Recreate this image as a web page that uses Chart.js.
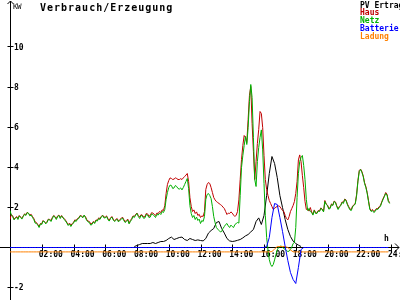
<!DOCTYPE html>
<html>
<head>
<meta charset="utf-8">
<script src="https://cdn.jsdelivr.net/npm/chart.js@4"></script>
<style>
  html, body { margin: 0; padding: 0; background: #fff; }
  canvas { display: block; }
</style>
</head>
<body>
<canvas id="chart" width="400" height="300"></canvas>
<script>
const title = 'Verbrauch/Erzeugung';
const unitLabel = 'KW';
const hourLabel = 'h';
const seriesNames = ['PV Ertrag', 'Haus', 'Netz', 'Batterie', 'Ladung'];
const seriesColors = ['#000000', '#c00000', '#00b000', '#0000ff', '#ff8000'];

const xTickValues = [2, 4, 6, 8, 10, 12, 14, 16, 18, 20, 22, 24];
const xTickLabels = ['02:00', '04:00', '06:00', '08:00', '10:00', '12:00', '14:00', '16:00', '18:00', '20:00', '22:00', '24:00'];
const yTickValues = [-2, 2, 4, 6, 8, 10];
const yTickLabels = ['-2', '2', '4', '6', '8', '10'];

// Haus/Netz are sampled every 5 min (00:00 .. 23:55), the rest every 10 min (00:00 .. 23:50)
const minutes5 = Array.from({ length: 288 }, (_, i) => i * 5);
const minutes10 = Array.from({ length: 144 }, (_, i) => i * 10);

// kW, one row per hour
const haus = [
  1.40, 1.65, 1.58, 1.42, 1.48, 1.55, 1.45, 1.60, 1.52, 1.46, 1.58, 1.68,
  1.65, 1.76, 1.70, 1.62, 1.66, 1.55, 1.45, 1.28, 1.25, 1.15, 1.05, 1.20,
  1.20, 1.35, 1.28, 1.22, 1.30, 1.42, 1.40, 1.35, 1.50, 1.60, 1.55, 1.45,
  1.58, 1.62, 1.50, 1.60, 1.48, 1.45, 1.36, 1.25, 1.15, 1.22, 1.10, 1.20,
  1.25, 1.38, 1.35, 1.45, 1.48, 1.60, 1.58, 1.52, 1.60, 1.55, 1.40, 1.32,
  1.30, 1.18, 1.20, 1.30, 1.25, 1.38, 1.35, 1.48, 1.45, 1.55, 1.62, 1.52,
  1.52, 1.58, 1.45, 1.36, 1.48, 1.55, 1.42, 1.35, 1.40, 1.45, 1.32, 1.40,
  1.45, 1.52, 1.40, 1.30, 1.35, 1.42, 1.22, 1.35, 1.45, 1.58, 1.55, 1.66,
  1.72, 1.60, 1.52, 1.64, 1.62, 1.52, 1.55, 1.70, 1.68, 1.56, 1.60, 1.74,
  1.72, 1.66, 1.60, 1.72, 1.70, 1.80, 1.75, 1.88, 1.85, 2.10, 2.70, 3.15,
  3.35, 3.48, 3.45, 3.40, 3.42, 3.48, 3.45, 3.40, 3.40, 3.44, 3.40, 3.48,
  3.55, 3.62, 3.70, 3.30, 2.50, 2.05, 1.80, 1.88, 1.70, 1.78, 1.60, 1.66,
  1.50, 1.58, 1.55, 1.80, 2.90, 3.15, 3.25, 3.20, 3.00, 2.75, 2.50, 2.38,
  2.30, 2.25, 2.20, 2.15, 2.10, 2.02, 1.95, 1.80, 1.65, 1.72, 1.70, 1.78,
  1.72, 1.62, 1.55, 1.62, 1.80, 2.38, 3.40, 4.40, 5.10, 5.60, 5.50, 5.25,
  6.40, 7.60, 8.05, 6.20, 4.80, 3.40, 4.30, 5.20, 5.90, 6.80, 6.70, 6.00,
  4.60, 3.40, 2.90, 2.60, 2.35, 2.20, 2.05, 1.90, 1.95, 2.02, 2.05, 2.08,
  2.05, 1.95, 1.85, 1.80, 1.60, 1.45, 1.38, 1.55, 1.80, 1.95, 2.10, 2.30,
  2.70, 3.30, 4.38, 4.63, 4.30, 3.60, 3.00, 2.30, 1.90, 1.95, 1.82, 2.00,
  1.78, 1.66, 1.88, 1.74, 1.72, 1.85, 1.84, 1.98, 1.92, 1.80, 2.35, 2.18,
  2.12, 1.95, 2.00, 2.18, 2.12, 2.32, 2.28, 2.08, 1.95, 2.05, 2.12, 2.28,
  2.25, 2.42, 2.38, 2.18, 2.05, 1.92, 1.90, 2.08, 2.12, 2.22, 2.65, 3.35,
  3.85, 3.92, 3.80, 3.58, 3.25, 3.05, 2.75, 2.35, 1.95, 1.84, 1.90, 1.80,
  1.85, 1.95, 1.95, 2.04, 2.10, 2.28, 2.45, 2.58, 2.75, 2.66, 2.35, 2.24
];

const netz = [
  1.85, 1.62, 1.55, 1.38, 1.45, 1.52, 1.40, 1.58, 1.50, 1.42, 1.55, 1.66,
  1.60, 1.74, 1.72, 1.58, 1.62, 1.50, 1.40, 1.22, 1.20, 1.12, 1.00, 1.18,
  1.15, 1.32, 1.30, 1.18, 1.25, 1.40, 1.38, 1.30, 1.45, 1.58, 1.52, 1.40,
  1.55, 1.60, 1.45, 1.58, 1.50, 1.40, 1.32, 1.22, 1.10, 1.18, 1.05, 1.15,
  1.22, 1.35, 1.30, 1.42, 1.45, 1.58, 1.55, 1.48, 1.62, 1.50, 1.35, 1.28,
  1.25, 1.12, 1.15, 1.28, 1.20, 1.35, 1.32, 1.45, 1.40, 1.52, 1.60, 1.48,
  1.48, 1.55, 1.40, 1.32, 1.45, 1.52, 1.38, 1.30, 1.35, 1.42, 1.28, 1.36,
  1.40, 1.48, 1.35, 1.25, 1.30, 1.38, 1.18, 1.30, 1.40, 1.55, 1.50, 1.62,
  1.70, 1.55, 1.45, 1.60, 1.58, 1.46, 1.48, 1.65, 1.62, 1.50, 1.52, 1.68,
  1.65, 1.58, 1.50, 1.66, 1.62, 1.72, 1.65, 1.80, 1.75, 1.90, 2.40, 2.75,
  3.00, 3.12, 3.10, 2.95, 2.98, 3.10, 3.05, 2.95, 2.92, 2.98, 2.88, 3.00,
  3.15, 3.30, 3.45, 2.95, 2.10, 1.70, 1.50, 1.60, 1.40, 1.52, 1.35, 1.42,
  1.20, 1.35, 1.30, 1.55, 2.40, 2.65, 2.70, 2.60, 2.45, 2.05, 1.55, 1.25,
  1.00, 0.92, 0.85, 0.78, 0.80, 0.95, 1.05, 1.15, 1.20, 1.08, 1.00, 1.12,
  1.05, 1.00, 1.15, 1.20, 1.25, 1.22, 2.60, 4.00, 4.60, 5.10, 5.55, 5.15,
  6.00, 7.30, 8.15, 7.50, 5.50, 3.40, 3.05, 4.30, 5.00, 5.50, 5.88, 4.88,
  3.20, 1.60, 0.50, -0.12, -0.60, -0.85, -0.95, -0.85, -0.62, -0.35, -0.12, 0.00,
  0.05, 0.08, 0.00, -0.05, -0.10, -0.15, -0.20, -0.18, -0.10, 0.02, 0.20, 0.25,
  1.00, 2.50, 3.70, 4.30, 4.50, 4.60, 4.10, 3.40, 2.40, 1.85, 1.95, 1.80,
  1.75, 1.62, 1.85, 1.70, 1.70, 1.82, 1.80, 1.95, 1.90, 1.78, 2.30, 2.15,
  2.10, 1.92, 1.95, 2.15, 2.10, 2.30, 2.25, 2.05, 1.90, 2.02, 2.10, 2.25,
  2.20, 2.40, 2.35, 2.15, 2.00, 1.88, 1.85, 2.05, 2.10, 2.18, 2.60, 3.30,
  3.80, 3.90, 3.75, 3.55, 3.20, 3.00, 2.70, 2.30, 1.90, 1.80, 1.85, 1.75,
  1.80, 1.92, 1.90, 2.00, 2.05, 2.25, 2.40, 2.55, 2.70, 2.62, 2.30, 2.20
];

const pvErtrag = [
  null, null, null, null, null, null,
  null, null, null, null, null, null,
  null, null, null, null, null, null,
  null, null, null, null, null, null,
  null, null, null, null, null, null,
  null, null, null, null, null, null,
  null, null, null, null, null, null,
  null, null, null, null, null, 0.05,
  0.10, 0.15, 0.20, 0.20, 0.20, 0.20,
  0.25, 0.20, 0.25, 0.30, 0.30, 0.35,
  0.45, 0.52, 0.40, 0.45, 0.50, 0.52,
  0.40, 0.35, 0.45, 0.40, 0.35, 0.38,
  0.35, 0.33, 0.45, 0.72, 0.85, 0.95,
  1.25, 1.30, 0.95, 0.72, 0.45, 0.33,
  0.30, 0.32, 0.36, 0.40, 0.48, 0.58,
  0.65, 0.78, 0.90, 1.30, 1.48, 1.15,
  1.60, 2.60, 3.70, 4.55, 4.20, 3.50,
  2.60, 2.00, 1.40, 0.90, 0.55, 0.32,
  0.20, 0.12, 0.05, null, null, null,
  null, null, null, null, null, null,
  null, null, null, null, null, null,
  null, null, null, null, null, null,
  null, null, null, null, null, null,
  null, null, null, null, null, null
];

const batterie = [
  0, 0, 0, 0, 0, 0,
  0, 0, 0, 0, 0, 0,
  0, 0, 0, 0, 0, 0,
  0, 0, 0, 0, 0, 0,
  0, 0, 0, 0, 0, 0,
  0, 0, 0, 0, 0, 0,
  0, 0, 0, 0, 0, 0,
  0, 0, 0, 0, 0, 0,
  0, 0, 0, 0, 0, 0,
  0, 0, 0, 0, 0, 0,
  0, 0, 0, 0, 0, 0,
  0, 0, 0, 0, 0, 0,
  0, 0, 0, 0, 0, 0,
  0, 0, 0, 0, 0, 0,
  0, 0, 0, 0, 0, 0,
  0, 0, 0, 0, 0, 0,
  0, 0.05, 0.50, 1.50, 2.20, 2.15,
  1.50, 0.80, 0.05, -0.65, -1.25, -1.60,
  -1.80, -1.00, -0.10, 0, 0, 0,
  0, 0, 0, 0, 0, 0,
  0, 0, 0, 0, 0, 0,
  0, 0, 0, 0, 0, 0,
  0, 0, 0, 0, 0, 0,
  0, 0, 0, 0, 0, 0
];

const ladung = [
  -0.22, -0.22, -0.22, -0.22, -0.22, -0.22,
  -0.22, -0.22, -0.22, -0.22, -0.22, -0.22,
  -0.22, -0.22, -0.22, -0.22, -0.22, -0.22,
  -0.22, -0.22, -0.22, -0.22, -0.22, -0.22,
  -0.22, -0.22, -0.22, -0.22, -0.22, -0.22,
  -0.22, -0.22, -0.22, -0.22, -0.22, -0.22,
  -0.22, -0.22, -0.22, -0.22, -0.22, -0.22,
  -0.22, -0.22, -0.22, -0.22, -0.22, -0.22,
  -0.22, -0.22, -0.22, -0.22, -0.22, -0.22,
  -0.22, -0.22, -0.22, -0.22, -0.22, -0.22,
  -0.22, -0.22, -0.22, -0.22, -0.22, -0.22,
  -0.22, -0.22, -0.22, -0.22, -0.22, -0.22,
  -0.22, -0.22, -0.22, -0.22, -0.22, -0.22,
  -0.22, -0.22, -0.22, -0.22, -0.22, -0.22,
  -0.22, -0.22, -0.22, -0.22, -0.22, -0.22,
  -0.22, -0.22, -0.22, -0.22, -0.22, -0.22,
  -0.22, -0.22, -0.22, -0.20, -0.08, 0.05,
  0.05, 0.05, 0.05, 0.00, -0.12, -0.22,
  -0.22, -0.22, -0.22, -0.22, -0.22, -0.22,
  -0.22, -0.22, -0.22, -0.22, -0.22, -0.22,
  -0.22, -0.22, -0.22, -0.22, -0.22, -0.22,
  -0.22, -0.22, -0.22, -0.22, -0.22, -0.22,
  -0.22, -0.22, -0.22, -0.22, -0.22, -0.22,
  -0.22, -0.22, -0.22, -0.22, -0.22, -0.22
];

const MONO = "'DejaVu Sans Mono', monospace";

function points(times, values) {
    return times.map((m, i) => ({ x: m / 60, y: values[i] }));
}

function line(idx, times, values, order) {
    return {
        label: seriesNames[idx],
        data: points(times, values),
        borderColor: seriesColors[idx],
        borderWidth: 1,
        pointRadius: 0,
        tension: 0,
        fill: false,
        order: order
    };
}

// axes with arrows and crossing tick marks
const axesPlugin = {
    id: 'axes',
    beforeDatasetsDraw(chart) {
        const { ctx } = chart;
        const xs = chart.scales.x, ys = chart.scales.y;
        const x0 = Math.round(xs.getPixelForValue(0)) + 0.5;
        const y0 = Math.round(ys.getPixelForValue(0)) - 0.5;
        ctx.save();
        ctx.strokeStyle = '#000';
        ctx.lineWidth = 1;
        ctx.beginPath();
        ctx.moveTo(0, y0); ctx.lineTo(399, y0);
        ctx.moveTo(395, y0 - 4); ctx.lineTo(399, y0); ctx.lineTo(395, y0 + 4);
        ctx.moveTo(x0, 300); ctx.lineTo(x0, 1);
        ctx.moveTo(x0 - 3, 4); ctx.lineTo(x0, 1); ctx.lineTo(x0 + 3, 4);
        xTickValues.forEach(v => {
            const px = Math.round(xs.getPixelForValue(v)) + 0.5;
            ctx.moveTo(px, y0 - 3); ctx.lineTo(px, y0 + 4);
        });
        yTickValues.forEach(v => {
            const py = Math.round(ys.getPixelForValue(v)) - 0.5;
            ctx.moveTo(x0 - 3, py); ctx.lineTo(x0 + 3, py);
        });
        ctx.stroke();
        ctx.restore();
    },
    afterDraw(chart) {
        const { ctx } = chart;
        ctx.save();
        ctx.fillStyle = '#000';
        ctx.textBaseline = 'alphabetic';
        ctx.font = 'bold 10px ' + MONO;
        ctx.letterSpacing = '1px';
        ctx.fillText(title, 40, 10.5);
        ctx.letterSpacing = '-0.4px';
        ctx.font = '7.5px ' + MONO;
        ctx.fillText(unitLabel, 13, 9);
        ctx.letterSpacing = '0px';
        ctx.font = 'bold 8px ' + MONO;
        ctx.fillText(hourLabel, 384, 241);
        seriesNames.forEach((name, i) => {
            ctx.fillStyle = seriesColors[i];
            ctx.fillText(name, 360, 7.5 + i * 7.75);
        });
        ctx.restore();
    }
};

new Chart(document.getElementById('chart'), {
    type: 'line',
    data: {
        datasets: [
            line(3, minutes10, batterie, 0),
            line(4, minutes10, ladung, 1),
            line(2, minutes5, netz, 2),
            line(1, minutes5, haus, 3),
            line(0, minutes10, pvErtrag, 4)
        ]
    },
    options: {
        responsive: false,
        animation: false,
        events: [],
        layout: { padding: { left: 10, right: 9, top: 3.5, bottom: 2.5 } },
        plugins: { legend: { display: false }, tooltip: { enabled: false } },
        scales: {
            x: {
                type: 'linear',
                min: 0,
                max: 24,
                position: { y: 0 },
                z: 1,
                grid: { display: false, drawTicks: false },
                border: { display: false },
                afterFit: s => { s.paddingLeft = 0; s.paddingRight = 0; },
                ticks: {
                    stepSize: 2,
                    autoSkip: false,
                    maxRotation: 0,
                    align: 'start',
                    labelOffset: -3,
                    padding: 3,
                    color: '#000',
                    font: { family: MONO, size: 8, weight: 'bold' },
                    callback: v => {
                        const i = xTickValues.indexOf(v);
                        return i < 0 ? '' : xTickLabels[i];
                    }
                }
            },
            y: {
                type: 'linear',
                min: -2.5,
                max: 12.2,
                position: 'left',
                grid: { display: false, drawTicks: false },
                border: { display: false },
                afterFit: s => { s.width = 0; s.paddingTop = 0; s.paddingBottom = 0; },
                ticks: {
                    stepSize: 2,
                    includeBounds: false,
                    mirror: true,
                    padding: 4,
                    color: '#000',
                    font: { family: MONO, size: 8, weight: 'bold' },
                    callback: v => {
                        const i = yTickValues.indexOf(v);
                        return i < 0 ? '' : yTickLabels[i];
                    }
                }
            }
        }
    },
    plugins: [axesPlugin]
});
</script>
</body>
</html>
